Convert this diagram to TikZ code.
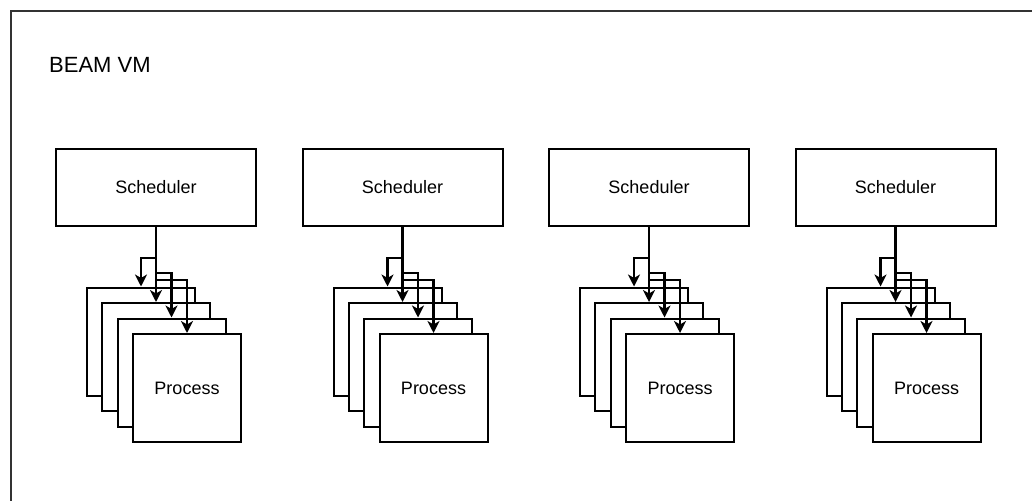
\documentclass[tikz,border=0pt]{standalone}
\usepackage{fontspec}
\setmainfont{Liberation Sans}
\usetikzlibrary{arrows.meta,calc}
\definecolor{framegray}{HTML}{333333}
\tikzset{
  schedbox/.style={draw=black, line width=2pt, fill=white, minimum width=200pt, minimum height=77pt,
    inner sep=0pt, font=\fontsize{18}{21}\selectfont},
  procbox/.style={draw=black, line width=2pt, fill=white, minimum width=108pt, minimum height=108pt,
    inner sep=0pt, font=\fontsize{18}{21}\selectfont},
  arr/.style={draw=black, line width=2.2pt, -{Stealth[length=12pt,width=12pt,inset=3.5pt]}},
  vmframe/.style={draw=framegray, line width=2.2pt, fill=white, anchor=north west, inner sep=0pt,
    minimum width=1060pt, minimum height=520pt},
}
\begin{document}
\begin{tikzpicture}[x=1pt,y=-1pt]
\useasboundingbox (0,0) rectangle (1032,500);
\clip (0,0) rectangle (1032,500);
% outer VM frame (continues past the right and bottom edges)
\node[vmframe] (vm) at (10,10) {};
\node[anchor=west, inner sep=0pt, font=\fontsize{22}{26}\selectfont] (title) at (49,65) {BEAM VM};
% one scheduler with its stack of processes per column
\foreach \k in {1,...,4}{
  \pgfmathsetmacro{\c}{156+246.5*(\k-1)}
  \node[schedbox] (s\k) at (\c,187.5) {Scheduler};
  \node[procbox] (p\k a) at (\c-15,341.5) {};
  \node[procbox] (p\k b) at (\c,357) {};
  \node[procbox] (p\k c) at (\c+15.5,372.5) {};
  \node[procbox] (p\k d) at (\c+31,388) {Process};
  \draw[arr] (s\k.south) -- ++(0,31) -| (p\k a.north);
  \draw[arr] (s\k.south) -- (p\k b.north);
  \draw[arr] (s\k.south) -- ++(0,46) -| (p\k c.north);
  \draw[arr] (s\k.south) -- ++(0,53) -| (p\k d.north);
}
\end{tikzpicture}
\end{document}
